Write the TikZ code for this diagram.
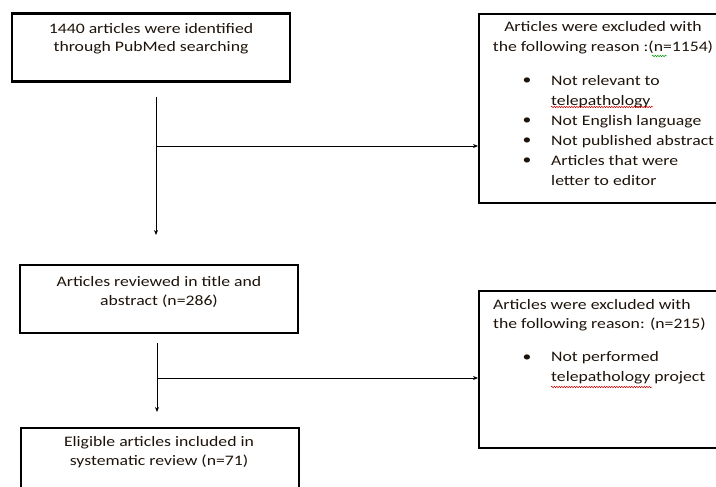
\documentclass[tikz,border=0pt]{standalone}
\usepackage{fontspec}
\setmainfont{Carlito}[FakeStretch=1.22]
\usetikzlibrary{arrows.meta,decorations.pathmorphing}
\tikzset{
  box/.style={draw=black,line width=2.2pt,inner sep=0pt},
  txt/.style={inner sep=0pt,font=\fontsize{14.5}{19}\selectfont,text=black!85!brown},
  txtA/.style={txt,font=\fontsize{14.5}{18}\selectfont},
  txtB/.style={txt,font=\fontsize{14.5}{20}\selectfont},
  conn/.style={draw=black,line width=0.8pt},
  arr/.style={conn,-{Stealth[length=5pt,width=4pt]}},
  squig/.style={draw=red!80!black,line width=0.5pt,decorate,decoration={snake,amplitude=0.7pt,segment length=2.5pt}},
  gsquig/.style={draw=green!60!black,line width=0.5pt,decorate,decoration={snake,amplitude=0.7pt,segment length=2.5pt}}
}
\begin{document}
\begin{tikzpicture}[x=1pt,y=-1pt]
\path[use as bounding box,clip] (0,0) rectangle (716,487);
% boxes
\node[box,minimum width=278pt,minimum height=68pt] (b1) at (151,47.5) {};
\node[box,minimum width=262pt,minimum height=189pt,anchor=north west] (b2) at (478,13) {};
\node[box,minimum width=278pt,minimum height=68pt] (b3) at (159,299) {};
\node[box,minimum width=262pt,minimum height=157pt,anchor=north west] (b4) at (478,290) {};
\node[box,minimum width=278pt,minimum height=80pt,anchor=north west] (b5) at (20,427) {};
% texts box1
\node[txtA,align=center] (t1) at (151,39) {1440 articles were identified\\through PubMed searching};
% box2
\node[txtB,align=center] (t2) at (603,38) {Articles were excluded with\\the following reason :(n=1154)};
\node[txt] (d1) at (527,81) {\textbullet};
\node[txt] (d2) at (527,121) {\textbullet};
\node[txt] (d3) at (527,141) {\textbullet};
\node[txt] (d4) at (527,161) {\textbullet};
\node[txtB,anchor=west,align=left] (i1) at (551,131) {Not relevant to\\telepathology\\Not English language\\Not published abstract\\Articles that were\\letter to editor};
% box3
\node[txt,align=center] (t3) at (159,292) {Articles reviewed in title and\\abstract (n=286)};
% box4
\node[txt,anchor=west,align=left] (t4) at (493,315.5) {Articles were excluded with\\the following reason: (n=215)};
\node[txt] (d5) at (527,358) {\textbullet};
\node[txtB,anchor=west,align=left] (i2) at (551,368) {Not performed\\telepathology project};
% box5
\node[txt,align=center] (t5) at (159,452.5) {Eligible articles included in\\systematic review (n=71)};
% connectors
\coordinate (a1s) at (156,97);
\coordinate (a1e) at (156,235);
\coordinate (j1) at (156,146);
\coordinate (a2s) at (157,343);
\coordinate (a2e) at (157,412);
\coordinate (j2) at (157,378);
\draw[conn] (a1s) -- (j1);
\draw[arr] (j1) -- (a1e);
\draw[arr] (j1) -- (j1 -| b2.west);
\draw[conn] (a2s) -- (j2);
\draw[arr] (j2) -- (a2e);
\draw[arr] (j2) -- (j2 -| b4.west);
% spelling marks
\draw[gsquig] (652,56) -- (667,56);
\draw[squig] (551,107) -- (653,107);
\draw[squig] (551,387) -- (652,387);
\end{tikzpicture}
\end{document}
